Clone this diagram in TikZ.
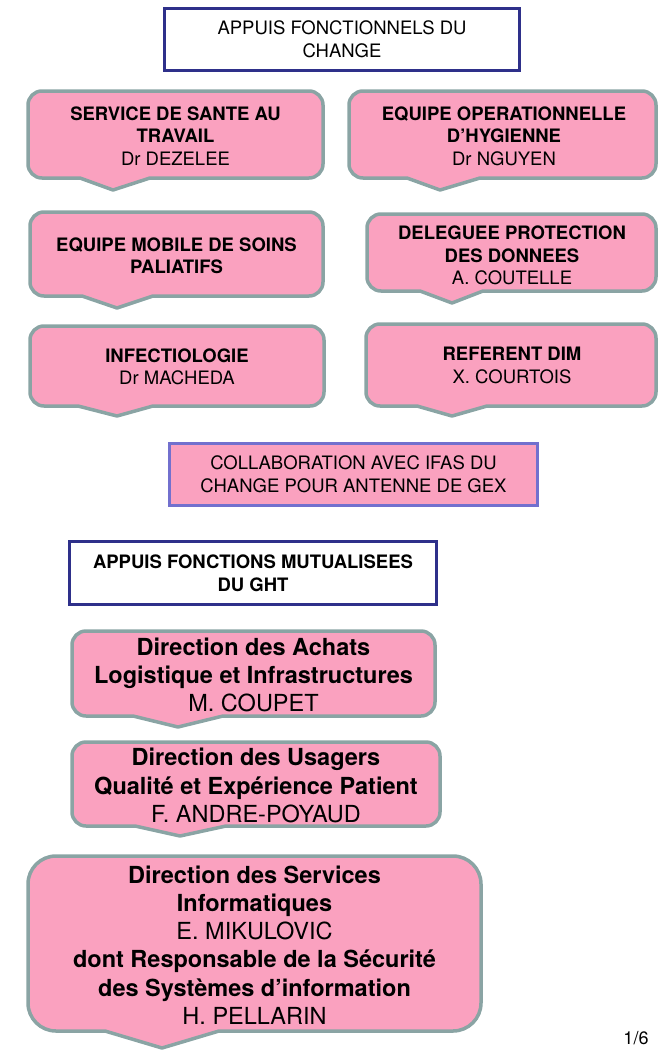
\documentclass[tikz,border=0pt]{standalone}
\usepackage{fontspec}
\setmainfont{TeX Gyre Heros}
\definecolor{pinkfill}{RGB}{250,161,191}
\definecolor{callborder}{RGB}{138,164,164}
\definecolor{navyblue}{RGB}{46,48,138}
\definecolor{lavender}{RGB}{114,112,206}
% #1 x1, #2 y1 (top), #3 x2, #4 y2 (bottom), #5 radius, #6 wedge left, #7 tip x, #8 wedge right, #9 tip y   (pixels, y downwards)
\newcommand\calloutpath[9]{%
  \draw[calloutshape] ({#1+#5},-#2) -- ({#3-#5},-#2)
    arc[start angle=90,end angle=0,radius=#5] -- (#3,{-#4+#5})
    arc[start angle=0,end angle=-90,radius=#5] -- (#8,-#4) -- (#7,-#9) -- (#6,-#4) -- ({#1+#5},-#4)
    arc[start angle=270,end angle=180,radius=#5]
    -- (#1,{-#2-#5}) arc[start angle=180,end angle=90,radius=#5] -- cycle;}
\tikzset{
  calloutshape/.style={draw=callborder, fill=pinkfill, line width=3.5pt, line join=round},
  smalltext/.style={font=\fontsize{18.5}{22.5}\selectfont, align=center, inner sep=0pt},
  largetext/.style={font=\fontsize{23.5}{28.3}\selectfont, align=center, inner sep=0pt},
  navybox/.style={draw=navyblue, line width=3.3pt, fill=white, inner sep=0pt},
  collabbox/.style={draw=lavender, line width=3pt, fill=pinkfill, inner sep=0pt},
}
\begin{document}
\begin{tikzpicture}[x=1pt,y=1pt]
\useasboundingbox (0,0) rectangle (659,-1052);

% top title
\node[navybox, smalltext, minimum width=355pt, minimum height=62pt] (topbox) at (342,-39.5)
  {APPUIS FONCTIONNELS DU\\CHANGE};

% row 1
\calloutpath{28}{91}{323}{178}{14}{80}{113}{150}{190}
\node[smalltext] (sst) at (175.5,-136) {\textbf{SERVICE DE SANTE AU}\\\textbf{TRAVAIL}\\Dr DEZELEE};
\calloutpath{349}{91}{656}{178}{14}{407}{440}{480}{190}
\node[smalltext] (eoh) at (504,-136) {\textbf{EQUIPE OPERATIONNELLE}\\\textbf{D’HYGIENNE}\\Dr NGUYEN};

% row 2
\calloutpath{30}{212}{323}{296}{14}{82}{117}{153}{308}
\node[smalltext] (emsp) at (176.5,-256) {\textbf{EQUIPE MOBILE DE SOINS}\\\textbf{PALIATIFS}};
\calloutpath{367}{214}{656}{291}{14}{420}{452}{483}{303}
\node[smalltext] (dpd) at (512,-255.5) {\textbf{DELEGUEE PROTECTION}\\\textbf{DES DONNEES}\\A. COUTELLE};

% row 3
\calloutpath{30}{326}{324}{406}{14}{78}{117}{153}{416}
\node[smalltext] (infec) at (177,-367) {\textbf{INFECTIOLOGIE}\\Dr MACHEDA};
\calloutpath{366}{324}{656}{406}{14}{417}{452}{487}{416}
\node[smalltext] (dim) at (512,-365.5) {\textbf{REFERENT DIM}\\X. COURTOIS};

% collaboration
\node[collabbox, smalltext, minimum width=368pt, minimum height=62pt] (collab) at (353.5,-474.5)
  {COLLABORATION AVEC IFAS DU\\CHANGE POUR ANTENNE DE GEX};

% GHT title
\node[navybox, smalltext, minimum width=367pt, minimum height=63pt] (ght) at (253,-573)
  {\textbf{APPUIS FONCTIONS MUTUALISEES}\\\textbf{DU GHT}};

% achats
\calloutpath{72}{631}{435}{716}{14}{133}{178}{223}{727}
\node[largetext] (achats) at (253.5,-675) {\textbf{Direction des Achats}\\\textbf{Logistique et Infrastructures}\\M. COUPET};

% usagers
\calloutpath{72}{742}{440}{826}{14}{135}{180}{226}{836}
\node[largetext] (usagers) at (256,-785.5) {\textbf{Direction des Usagers}\\\textbf{Qualité et Expérience Patient}\\F. ANDRE-POYAUD};

% DSI
\calloutpath{28}{856}{481}{1031}{28}{105}{162}{219}{1048}
\node[largetext] (dsi) at (254.5,-945) {\textbf{Direction des Services}\\\textbf{Informatiques}\\E. MIKULOVIC\\\textbf{dont Responsable de la Sécurité}\\\textbf{des Systèmes d’information}\\H. PELLARIN};

% page number
\node[font=\fontsize{18}{21}\selectfont, inner sep=0pt] (pagenum) at (636,-1038) {1/6};
\end{tikzpicture}
\end{document}
